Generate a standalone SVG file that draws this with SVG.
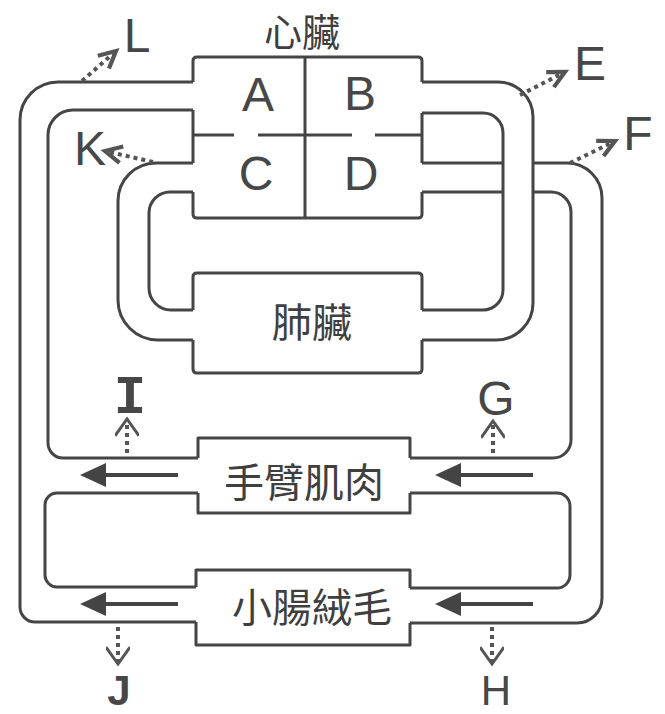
<svg xmlns="http://www.w3.org/2000/svg" width="665" height="714" viewBox="0 0 665 714">
<style>
.ln{fill:none;stroke:#454545;stroke-width:3;stroke-linejoin:round;stroke-linecap:butt}
.dot{fill:none;stroke:#555;stroke-width:4;stroke-dasharray:4 4}
.sol{fill:none;stroke:#444;stroke-width:4}
.hd{fill:#444}
.let{font-family:"Liberation Sans","DejaVu Sans",sans-serif;font-size:48px;fill:#474747;text-anchor:middle}
.cjk{font-family:"Noto Sans CJK TC","Noto Sans CJK SC",sans-serif;font-size:40px;fill:#3f3f3f;text-anchor:middle}
</style>
<defs>
<marker id="mV" markerUnits="userSpaceOnUse" markerWidth="24" markerHeight="24" viewBox="0 0 20 20" refX="16" refY="10" orient="auto">
<path d="M2,3 L16,10 L2,17" fill="none" stroke="#555" stroke-width="3.5"/>
</marker>
<marker id="mW" markerUnits="userSpaceOnUse" markerWidth="24" markerHeight="24" viewBox="0 0 20 20" refX="16" refY="10" orient="auto">
<path d="M2,0 L16,10 L2,20" fill="none" stroke="#555" stroke-width="2.5"/>
</marker>
</defs>
<rect width="665" height="714" fill="#fff"/>

<g id="heart">
<path class="ln" d="M193,82 V61 Q193,57 197,57 H418 Q422,57 422,61 V82 M193,110 V163 M422,113 V163 M193,192 V214 Q193,218 197,218 H418 Q422,218 422,214 V192 M305,57 V218 M193,135 H234 M258,135 H352 M375,135 H422"/>
<text class="cjk" x="302" y="46" style="font-size:38px">心臟</text>
<text class="let" x="258" y="111">A</text>
<text class="let" x="360" y="110">B</text>
<text class="let" x="256" y="190">C</text>
<text class="let" x="361" y="190">D</text>
</g>

<g id="lungs">
<path class="ln" d="M193,310 V277 Q193,273 197,273 H418 Q422,273 422,277 V310 M193,340 V369 Q193,373 197,373 H418 Q422,373 422,369 V340"/>
<text class="cjk" x="312" y="337">肺臟</text>
</g>

<g id="arm">
<path class="ln" d="M198,458 V438 H410 V458 M198,493 V513 H410 V493"/>
<text class="cjk" x="304" y="497">手臂肌肉</text>
</g>

<g id="intestine">
<path class="ln" d="M196,587 V570 H410 V588 M196,622 V645 H410 V623"/>
<text class="cjk" x="312" y="622">小腸絨毛</text>
</g>

<g id="vessels">
<path class="ln" d="M193,82 H58 A38,38 0 0 0 20,120 V607 A15,15 0 0 0 35,622 H196 M410,623 H577 A25,25 0 0 0 602,598 V198 A35,35 0 0 0 567,163 H533"/>
<path class="ln" d="M193,110 H73 A25,25 0 0 0 48,135 V443 A15,15 0 0 0 63,458 H198 M410,458 H553 A18,18 0 0 0 571,440 V212 A20,20 0 0 0 551,192 H533"/>
<path class="ln" d="M198,493 H57 A12,12 0 0 0 45,505 V575 A12,12 0 0 0 57,587 H196 M410,588 H557 A13,13 0 0 0 570,575 V506 A13,13 0 0 0 557,493 H410"/>
<path class="ln" d="M193,340 H158 A40,40 0 0 1 118,300 V201 A38,38 0 0 1 156,163 H193 M193,310 H171 A22,22 0 0 1 149,288 V213 A21,21 0 0 1 170,192 H193"/>
<path class="ln" d="M422,82 H498 A35,35 0 0 1 533,117 V303 A37,37 0 0 1 496,340 H422 M422,113 H483 A20,20 0 0 1 503,133 V290 A20,20 0 0 1 483,310 H422"/>
<path class="ln" d="M422,163 H503 M422,192 H503"/>
</g>

<g id="connectors">
<path class="dot" d="M82,81 L116,51" marker-end="url(#mV)"/>
<path class="dot" d="M520,95 L565,72" marker-end="url(#mV)"/>
<path class="dot" d="M570,163 L615,141" marker-end="url(#mV)"/>
<path class="dot" d="M153,162 L105,151" marker-end="url(#mV)"/>
<path class="dot" d="M127,453 L127,419" marker-end="url(#mW)"/>
<path class="dot" d="M493,453 L493,421" marker-end="url(#mW)"/>
<path class="dot" d="M118,627 L118,664" marker-end="url(#mW)"/>
<path class="dot" d="M492,627 L492,664" marker-end="url(#mW)"/>
<path class="sol" d="M104,475 H178 M460,475 H533 M104,604 H178 M460,604 H533"/>
<polygon class="hd" points="80,475 106,463 106,487"/>
<polygon class="hd" points="435,475 461,463 461,487"/>
<polygon class="hd" points="80,604 106,592 106,616"/>
<polygon class="hd" points="435,604 461,592 461,616"/>
</g>

<g id="labels">
<text class="let" x="137" y="52">L</text>
<text class="let" x="590" y="80">E</text>
<text class="let" x="638" y="150">F</text>
<text class="let" x="90" y="165">K</text>
<text class="let" x="130" y="413" style="font-family:'Liberation Mono',monospace;font-weight:bold;font-size:54px">I</text>
<text class="let" x="496" y="415">G</text>
<text class="let" x="119" y="705" style="font-size:42px;font-weight:bold">J</text>
<text class="let" x="496" y="705" style="font-size:42px">H</text>
</g>
</svg>
